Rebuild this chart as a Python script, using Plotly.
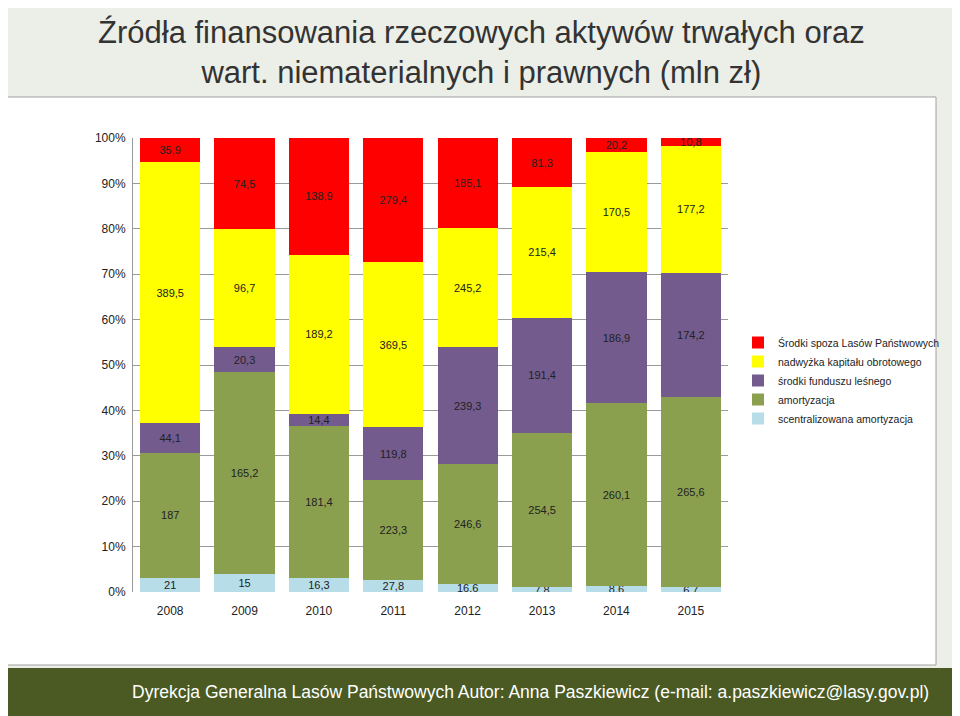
import plotly.graph_objects as go

years = ["2008","2009","2010","2011","2012","2013","2014","2015"]
scentr = [21,15,16.3,27.8,16.6,7.8,8.6,6.7]
amort = [187,165.2,181.4,223.3,246.6,254.5,260.1,265.6]
fundusz = [44.1,20.3,14.4,119.8,239.3,191.4,186.9,174.2]
nadwyzka = [389.5,96.7,189.2,369.5,245.2,215.4,170.5,177.2]
spoza = [35.9,74.5,138.9,279.4,185.1,81.3,20.2,10.8]

series = [
    ("scentralizowana amortyzacja", scentr, "#B7DDE8"),
    ("amortyzacja", amort, "#8BA04F"),
    ("środki funduszu leśnego", fundusz, "#735B8E"),
    ("nadwyżka kapitału obrotowego", nadwyzka, "#FFFF00"),
    ("Środki spoza Lasów Państwowych", spoza, "#FF0000"),
]

def fmt(v):
    return ("%g" % v).replace(".", ",")

fig = go.Figure()
for name, vals, col in series:
    fig.add_bar(x=years, y=vals, name=name, marker_color=col, marker_line_width=0,
                text=[fmt(v) for v in vals], textposition="inside", insidetextanchor="middle",
                textfont=dict(color="#222", size=11, family="Liberation Sans"),
                hoverinfo="skip")

OFF = 8
W, H = 960, 716
SL, SR, ST, SB = 133, 728, 138, 592
L, T = SL - OFF, ST - OFF
R, B = W - (SR - OFF), H - (SB - OFF)
PW, PH = SR - SL, SB - ST
def px(x): return (x - SL) / PW
def py(y): return (SB - y) / PH

shapes = [
    dict(type="rect", xref="paper", yref="paper", x0=px(6), x1=px(936), y0=py(665), y1=py(97),
         fillcolor="white", line=dict(color="#A0A0A0", width=1), layer="below"),
    dict(type="rect", xref="paper", yref="paper", x0=px(-10), x1=px(970), y0=py(730), y1=py(668),
         fillcolor="#4A5A22", line=dict(width=0), layer="below"),
]

fig.update_layout(
    width=W, height=H, barmode="stack", barnorm="percent", bargap=0.19,
    paper_bgcolor="#ECEEE8", plot_bgcolor="rgba(0,0,0,0)",
    margin=dict(l=L, r=R, t=T, b=B, autoexpand=False),
    shapes=shapes, uniformtext=dict(mode="show", minsize=10),
    font=dict(family="Liberation Sans", color="#222"),
    legend=dict(x=px(738), y=py(328), xanchor="left", yanchor="top", traceorder="reversed",
                font=dict(size=10.5, family="Liberation Sans"), bgcolor="rgba(0,0,0,0)",
                itemwidth=30, tracegroupgap=0),
    xaxis=dict(tickfont=dict(size=12), showline=False, ticks="", ticklabelstandoff=10),
    yaxis=dict(range=[0, 100], dtick=10, ticksuffix="%", tickfont=dict(size=12),
               gridcolor="#9A9A9A", showline=True, linecolor="#9A9A9A", zeroline=False,
               ticklabelstandoff=4),
    annotations=[
        dict(text="Źródła finansowania rzeczowych aktywów trwałych oraz<br>wart. niematerialnych i prawnych (mln zł)",
             xref="paper", yref="paper", x=px(481), y=py(52), xanchor="center", yanchor="middle",
             showarrow=False, font=dict(size=31, family="Liberation Sans", color="#333"), align="center"),
        dict(text="Dyrekcja Generalna Lasów Państwowych Autor: Anna Paszkiewicz (e-mail: a.paszkiewicz@lasy.gov.pl)",
             xref="paper", yref="paper", x=px(530), y=py(692), xanchor="center", yanchor="middle",
             showarrow=False, font=dict(size=17.5, family="Liberation Sans", color="white")),
    ],
)
fig.write_html("out.html")
